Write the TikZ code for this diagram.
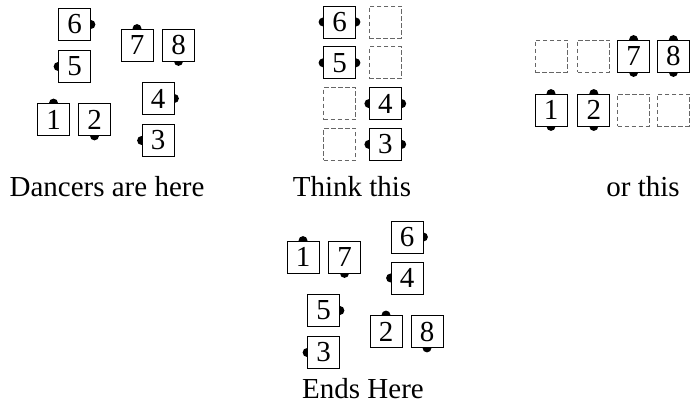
\documentclass[tikz,border=0pt]{standalone}
\usepackage{fontspec}
\setmainfont{Liberation Serif}
\usetikzlibrary{positioning,backgrounds}

\begin{document}
\begin{tikzpicture}[
    x=1pt, y=-1pt,
    node distance=8pt and 13pt,
    dancer/.style={
        rectangle,
        draw,
        fill=white,
        line width=0.8pt,
        minimum size=32pt,
        inner sep=0pt,
        font=\fontsize{29}{31}\selectfont
    },
    spot/.style={
        rectangle,
        draw=black!60,
        dash pattern=on 4.5pt off 2.5pt,
        line width=0.8pt,
        minimum size=32pt,
        inner sep=0pt
    },
    caption/.style={
        anchor=base,
        font=\fontsize{29}{31}\selectfont
    },
    hand/.style={
        fill=black
    }
]

\useasboundingbox (0,0) rectangle (691,406);

% =========================
% Dancers are here
% =========================

\node[dancer] (a6) at (74.5,24.5) {6};
\node[dancer] (a5) at (74.5,66.5) {5};
\node[dancer] (a7) at (137,45) {7};
\node[dancer] (a8) at (178.5,45) {8};
\node[dancer] (a4) at (158,98.5) {4};
\node[dancer] (a3) at (158,140.5) {3};
\node[dancer] (a1) at (53.5,119.5) {1};
\node[dancer] (a2) at (94.5,119.5) {2};

\node[caption] (capA) at (107,197) {Dancers are here};

% =========================
% Think this
% =========================

\node[dancer] (b6) at (339.5,22) {6};
\node[spot, right=of b6] (bs6) {};
\node[dancer, below=of b6] (b5) {5};
\node[spot, right=of b5] (bs5) {};
\node[spot, below=of b5] (bs4) {};
\node[dancer, right=of bs4] (b4) {4};
\node[spot, below=of bs4] (bs3) {};
\node[dancer, right=of bs3] (b3) {3};

\node[caption] (capB) at (352,197) {Think this};

% =========================
% or this
% =========================

\node[spot] (cs1) at (551,56) {};
\node[spot, right=10pt of cs1] (cs2) {};
\node[dancer, right=7pt of cs2] (c7) {7};
\node[dancer, right=7pt of c7] (c8) {8};
\node[dancer] (c1) at (551,110) {1};
\node[dancer, right=10pt of c1] (c2) {2};
\node[spot, right=7pt of c2] (cs7) {};
\node[spot, right=7pt of cs7] (cs8) {};

\node[caption] (capC) at (643,197) {or this};

% =========================
% Ends Here
% =========================

\node[dancer] (d1) at (303,257) {1};
\node[dancer] (d7) at (344.5,257) {7};
\node[dancer] (d6) at (407,237) {6};
\node[dancer] (d4) at (407,278) {4};
\node[dancer] (d5) at (323.5,310.5) {5};
\node[dancer] (d3) at (323.5,352.5) {3};
\node[dancer] (d2) at (386,331.5) {2};
\node[dancer] (d8) at (427,331.5) {8};

\node[caption] (capD) at (363,398) {Ends Here};

% =========================
% Hands
% =========================

\begin{scope}[on background layer]
\foreach \n/\side in {a6/east, a5/west, a7/north, a8/south, a4/east, a3/west,
    a1/north, a2/south, b6/west, b6/east, b5/west, b5/east, b4/west, b4/east,
    b3/west, b3/east, c7/north, c7/south, c8/north, c8/south, c1/north,
    c1/south, c2/north, c2/south, d1/north, d7/south, d6/east, d4/west,
    d5/east, d3/west, d2/north, d8/south}
    \fill[hand] (\n.\side) circle[radius=4.5pt];
\end{scope}

\end{tikzpicture}
\end{document}
